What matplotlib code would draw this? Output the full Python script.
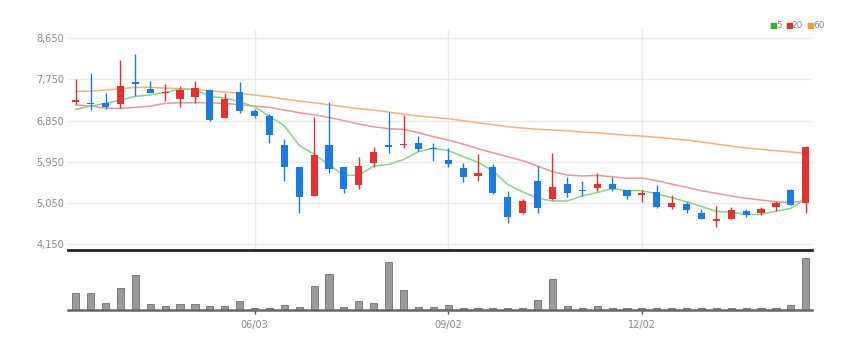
import matplotlib
matplotlib.use("Agg")
import matplotlib.pyplot as plt

# weekly candles (red = up, blue = down)
opens = [7253, 7238, 7238, 7209, 7682, 7544, 7457, 7311, 7369, 7515,
         6897, 7478, 7057, 6948, 6308, 5829, 5211, 6323, 5829, 5436,
         5930, 6323, 6308, 6366, 6257, 5988, 5814, 5640, 5843, 5189,
         4826, 5538, 5146, 5465, 5334, 5371, 5465, 5334, 5218, 5291,
         4957, 5029, 4840, 4666, 4710, 4884, 4826, 4971, 5334, 5058]
highs = [7747, 7878, 7442, 8169, 8299, 7711, 7638, 7602, 7718, 7529,
         7442, 7689, 7093, 6991, 6439, 5829, 6933, 7260, 5829, 6061,
         6265, 7035, 6977, 6512, 6352, 6243, 5930, 6119, 5901, 5320,
         5146, 5858, 6148, 5625, 5538, 5698, 5625, 5334, 5334, 5436,
         5233, 5073, 4913, 4986, 4957, 4928, 4957, 5087, 5364, 6294]
lows = [7209, 7079, 7108, 7122, 7384, 7442, 7282, 7151, 7238, 6832,
        6897, 7020, 6904, 6352, 5538, 4826, 5211, 5712, 5262, 5364,
        5843, 6134, 6250, 6178, 5974, 5829, 5509, 5538, 5247, 4608,
        4811, 4826, 5117, 5189, 5204, 5305, 5305, 5131, 5073, 4942,
        4928, 4840, 4695, 4521, 4710, 4739, 4797, 4884, 5000, 4840]
closes = [7297, 7217, 7137, 7602, 7638, 7457, 7478, 7515, 7558, 6861,
          7311, 7057, 6955, 6526, 5829, 5175, 6098, 5800, 5364, 5858,
          6163, 6279, 6337, 6221, 6236, 5901, 5625, 5712, 5276, 4753,
          5102, 4942, 5407, 5276, 5313, 5458, 5364, 5204, 5262, 4971,
          5044, 4898, 4710, 4710, 4898, 4782, 4913, 5058, 5015, 6265]
volumes = [52, 50, 22, 66, 104, 18, 12, 18, 18, 12,
           12, 28, 7, 7, 14, 9, 71, 108, 9, 28,
           22, 144, 60, 9, 9, 14, 7, 7, 7, 7,
           5, 31, 94, 12, 7, 12, 7, 5, 5, 7,
           7, 5, 5, 5, 5, 5, 5, 5, 14, 155]

# moving averages as drawn on the chart
ma5 = [7093, 7166, 7224, 7297, 7378, 7410, 7462, 7538, 7529, 7374,
       7345, 7260, 7148, 6942, 6736, 6308, 6117, 5886, 5653, 5659,
       5857, 5893, 6000, 6172, 6247, 6195, 6064, 5939, 5750, 5453,
       5294, 5157, 5096, 5096, 5208, 5279, 5364, 5323, 5320, 5252,
       5169, 5076, 4977, 4867, 4852, 4800, 4803, 4872, 4933, 5150]
ma20 = [7188, 7166, 7122, 7115, 7137, 7166, 7224, 7238, 7238, 7238,
        7224, 7195, 7165, 7137, 7079, 7020, 6977, 6919, 6846, 6773,
        6715, 6672, 6657, 6584, 6497, 6425, 6337, 6236, 6148, 6061,
        5974, 5858, 5734, 5661, 5640, 5654, 5625, 5589, 5596, 5538,
        5465, 5393, 5320, 5262, 5204, 5153, 5117, 5080, 5058, 5102]
ma60 = [7486, 7493, 7515, 7544, 7573, 7573, 7558, 7544, 7529, 7500,
        7471, 7442, 7405, 7369, 7318, 7275, 7238, 7195, 7151, 7108,
        7079, 7035, 6991, 6948, 6919, 6890, 6846, 6802, 6759, 6715,
        6686, 6657, 6643, 6628, 6599, 6584, 6555, 6526, 6512, 6483,
        6454, 6425, 6381, 6337, 6294, 6250, 6221, 6192, 6163, 6134]

tick_pos = [12, 25, 38]
tick_labels = ["06/03", "09/02", "12/02"]
price_ticks = [4150, 5050, 5950, 6850, 7750, 8650]

UP = "#e8312f"
DOWN = "#1b7be6"
TXT = "#888888"
label_font = ["Liberation Sans Narrow", "DejaVu Sans"]

fig = plt.figure(figsize=(8.62, 3.48), dpi=100)
ax = fig.add_axes([0.0789, 0.2816, 0.8631, 0.6322])
vax = fig.add_axes([0.0789, 0.1092, 0.8631, 0.1667], sharex=ax)

x = list(range(len(closes)))

# grid
ax.set_ylim(4026, 8825)
ax.set_yticks(price_ticks)
ax.set_yticklabels([f"{v:,}" for v in price_ticks], fontsize=7,
                   color=TXT, family=label_font)
ax.tick_params(axis="y", length=0, pad=3)
ax.tick_params(axis="x", length=0, labelbottom=False)
ax.set_xticks(tick_pos)
ax.grid(True, color="#ebebeb", linewidth=1)
ax.set_axisbelow(True)
for s in ["top", "right", "left"]:
    ax.spines[s].set_visible(False)
ax.spines["bottom"].set_color("#222222")
ax.spines["bottom"].set_linewidth(2)

# moving averages
ax.plot(x, ma60, color="#f6b27c", linewidth=1.1, zorder=2)
ax.plot(x, ma20, color="#f29595", linewidth=1.1, zorder=2)
ax.plot(x, ma5, color="#86d686", linewidth=1.1, zorder=2)

# candles
for i in x:
    o, h, l, c = opens[i], highs[i], lows[i], closes[i]
    col = UP if c >= o else DOWN
    ax.vlines(i, l, h, color=col, linewidth=1, zorder=3)
    body = max(abs(c - o), 25)
    ax.bar(i, body, bottom=min(o, c), width=0.48, color=col,
           linewidth=0, zorder=4)

ax.set_xlim(-0.52, 49.42)

# volume
vax.bar(x, volumes, width=0.48, color="#9a9a9a", edgecolor="#7c7c7c",
        linewidth=0.7)
vax.set_ylim(0, 174)
vax.set_yticks([])
for s in ["top", "right", "left"]:
    vax.spines[s].set_visible(False)
vax.spines["bottom"].set_color("#666666")
vax.spines["bottom"].set_linewidth(1.8)
vax.set_xticks(tick_pos)
vax.set_xticklabels(tick_labels, fontsize=7, color=TXT, family=label_font)
vax.tick_params(axis="x", length=3, width=1, color="#555555", pad=4)

# legend
legend_items = [("5", "#2fb52f"), ("20", "#e8312f"), ("60", "#f59a36")]
lx = 0.892
for lab, col in legend_items:
    fig.text(lx, 0.928, "■", color=col, fontsize=6, va="center", family="DejaVu Sans")
    fig.text(lx + 0.008, 0.928, lab, color=TXT, fontsize=6.5, va="center",
             family=label_font)
    lx += 0.008 + 0.0065 * len(lab) + 0.004

fig.savefig("out.png", dpi=100)
